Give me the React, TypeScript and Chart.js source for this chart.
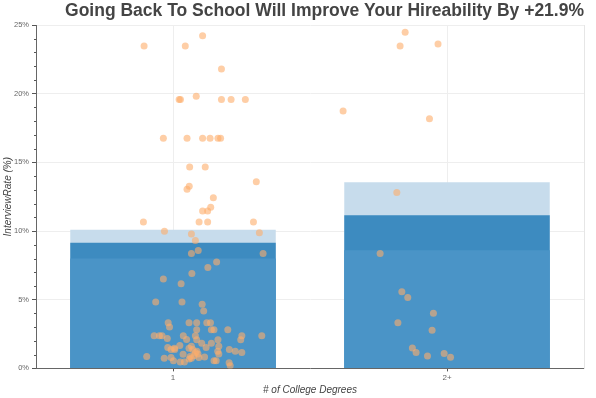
import React, { useEffect, useRef } from "react";
import { Chart, registerables } from "chart.js";

Chart.register(...registerables);

const degreeCategories = ["1", "2+"];
const upperRates = [10.1, 13.55];
const meanRates = [9.15, 11.15];
const lowerRates = [8.0, 8.6];

// [jitter offset from category centre, interview rate %]
const pointsOneDegree: [number, number][] = [
  [0.010, 24.21], [-0.257, 23.48], [-0.069, 23.48], [0.096, 21.79], [-0.097, 19.57], [-0.091, 19.57],
  [-0.019, 19.81], [0.096, 19.57], [0.140, 19.57], [0.205, 19.57], [-0.169, 16.75], [-0.061, 16.75],
  [0.010, 16.75], [0.044, 16.75], [0.080, 16.75], [0.092, 16.75], [-0.049, 14.67], [0.022, 14.67],
  [0.255, 13.59], [-0.051, 13.26], [-0.061, 13.04], [0.059, 12.42], [0.047, 11.74], [0.010, 11.45],
  [0.033, 11.45], [-0.260, 10.66], [-0.006, 10.66], [0.033, 10.66], [0.242, 10.66], [-0.164, 9.98],
  [-0.041, 9.78], [-0.023, 9.32], [0.269, 9.88], [-0.041, 8.36], [-0.010, 8.58], [0.286, 8.36],
  [0.074, 7.75], [0.034, 7.34], [-0.039, 6.90], [-0.169, 6.51], [-0.088, 6.16], [-0.204, 4.84],
  [-0.084, 4.84], [0.008, 4.67], [0.015, 4.18], [-0.147, 3.32], [-0.141, 3.01], [-0.052, 3.32],
  [-0.017, 3.32], [0.029, 3.32], [0.046, 3.32], [-0.017, 2.81], [0.050, 2.81], [0.062, 2.81],
  [0.125, 2.81], [-0.211, 2.37], [-0.187, 2.37], [-0.175, 2.37], [-0.151, 2.18], [-0.078, 2.37],
  [-0.063, 2.11], [-0.023, 2.37], [-0.017, 2.08], [0.080, 2.08], [0.189, 2.37], [0.184, 2.08],
  [0.280, 2.37], [0.006, 1.83], [0.050, 1.83], [0.084, 1.61], [-0.094, 1.67], [-0.149, 1.52],
  [-0.134, 1.37], [-0.119, 1.47], [-0.117, 1.37], [-0.052, 1.47], [-0.041, 1.61], [-0.035, 1.37],
  [0.026, 1.52], [0.132, 1.37], [0.159, 1.25], [0.189, 1.15], [0.079, 1.25], [0.084, 1.05],
  [-0.023, 1.15], [-0.016, 1.25], [-0.011, 1.05], [-0.029, 0.93], [-0.079, 1.03], [-0.245, 0.86],
  [-0.165, 0.73], [-0.134, 0.79], [-0.123, 0.56], [-0.092, 0.46], [-0.073, 0.46], [-0.047, 0.86],
  [-0.041, 0.73], [-0.051, 0.68], [-0.007, 0.79], [0.019, 0.83], [0.062, 0.56], [0.072, 0.56],
  [0.131, 0.42], [0.136, 0.20],
];

const pointsTwoDegrees: [number, number][] = [
  [-0.066, 24.48], [-0.089, 23.48], [0.084, 23.62], [-0.349, 18.73], [0.045, 18.17], [-0.104, 12.80],
  [-0.180, 8.36], [-0.081, 5.58], [-0.054, 5.16], [0.063, 4.01], [-0.099, 3.32], [0.057, 2.77],
  [-0.033, 1.49], [-0.016, 1.15], [0.036, 0.90], [0.112, 1.08], [0.141, 0.81],
];

const yTickValues = [0, 5, 10, 15, 20, 25];

const minorTicks = {
  id: "minorTicks",
  afterDraw(chart: any) {
    const s = chart.scales.y;
    const ctx = chart.ctx;
    ctx.save();
    ctx.strokeStyle = "#555";
    ctx.lineWidth = 1;
    for (let v = s.min; v <= s.max; v++) {
      if (yTickValues.includes(v)) continue;
      const y = Math.round(s.getPixelForValue(v)) + 0.5;
      ctx.beginPath();
      ctx.moveTo(s.right - 2, y);
      ctx.lineTo(s.right, y);
      ctx.stroke();
    }
    ctx.restore();
  },
};

export default function App() {
  const ref = useRef<HTMLCanvasElement>(null);
  useEffect(() => {
    if (!ref.current) return;
    const toXY = (pts: [number, number][], idx: number) =>
      pts.map(([dx, y]) => ({ x: idx + dx, y }));
    const chart = new Chart(ref.current, {
      type: "bar",
      data: {
        labels: degreeCategories,
        datasets: [
          {
            type: "scatter" as any,
            data: [...toXY(pointsOneDegree, 0), ...toXY(pointsTwoDegrees, 1)],
            xAxisID: "xj",
            backgroundColor: "rgba(253,174,107,0.6)",
            borderWidth: 0,
            pointRadius: 3.5,
            order: 0,
          } as any,
          {
            data: lowerRates,
            backgroundColor: "#4a94c7",
            grouped: false,
            barPercentage: 0.75,
            categoryPercentage: 1,
            order: 1,
          } as any,
          {
            data: meanRates,
            backgroundColor: "#3d8bc0",
            grouped: false,
            barPercentage: 0.75,
            categoryPercentage: 1,
            order: 2,
          } as any,
          {
            data: upperRates,
            backgroundColor: "#c7dcec",
            grouped: false,
            barPercentage: 0.75,
            categoryPercentage: 1,
            order: 3,
          } as any,
        ],
      },
      options: {
        animation: false,
        responsive: true,
        maintainAspectRatio: false,
        layout: { padding: { left: 1, right: 12, top: 0, bottom: 0 } },
        plugins: {
          legend: { display: false },
          tooltip: { enabled: false },
          title: {
            display: true,
            text: "Going Back To School Will Improve Your Hireability By +21.9%",
            align: "end",
            color: "#444",
            font: { family: "Liberation Sans", size: 17.5, weight: "bold" },
            padding: { top: 1, bottom: 3 },
          },
        },
        scales: {
          x: {
            type: "category",
            offset: true,
            grid: {
              offset: false,
              color: "#eeeeee",
              tickColor: "#555",
              tickLength: 3,
            },
            border: { color: "#666" },
            ticks: {
              color: "#666",
              font: { family: "Liberation Sans", size: 8 },
              padding: 2,
            },
            title: {
              display: true,
              text: "# of College Degrees",
              color: "#444",
              font: { family: "Liberation Sans", size: 10, style: "italic" },
              padding: { top: -1, bottom: 2 },
            },
          },
          xj: {
            type: "linear",
            display: false,
            min: -0.5,
            max: 1.5,
          },
          y: {
            min: 0,
            max: 25,
            afterBuildTicks: (axis: any) => {
              axis.ticks = yTickValues.map((v) => ({ value: v }));
            },
            grid: {
              color: "#eeeeee",
              tickColor: "#555",
              tickLength: 4,
            },
            border: { color: "#666" },
            ticks: {
              color: "#666",
              font: { family: "Liberation Sans", size: 7.5 },
              padding: 3,
              callback: (v: any) => v + "%",
            },
            title: {
              display: true,
              text: "InterviewRate (%)",
              color: "#444",
              font: { family: "Liberation Sans", size: 10, style: "italic" },
              padding: { top: 1, bottom: -3 },
            },
          },
          yr: {
            position: "right",
            min: 0,
            max: 25,
            ticks: { display: false },
            grid: { drawOnChartArea: false, drawTicks: false },
            border: { color: "#e6e6e6" },
          },
        },
      } as any,
      plugins: [minorTicks],
    });
    return () => chart.destroy();
  }, []);
  return (
    <div style={{ position: "fixed", left: 0, top: 0, width: 596, height: 398 }}>
      <canvas ref={ref} />
    </div>
  );
}
